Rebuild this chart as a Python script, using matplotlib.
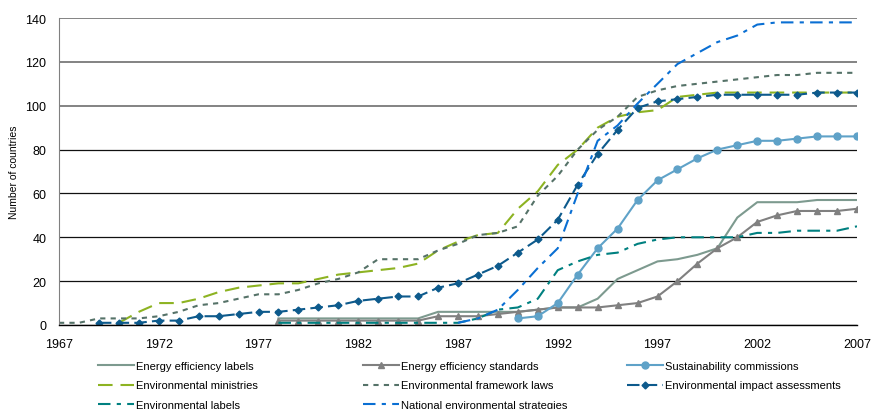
import numpy as np
import matplotlib.pyplot as plt

plt.rcParams['font.family'] = ['Liberation Sans', 'DejaVu Sans']

# data (number of countries per year)
ee_labels_years = list(range(1978, 2008))
ee_labels = [3, 3, 3, 3, 3, 3, 3, 3, 6, 6, 6, 6, 6, 7, 8, 8, 12, 21, 25, 29,
             30, 32, 35, 49, 56, 56, 56, 57, 57, 57]

ee_standards_years = list(range(1978, 2008))
ee_standards = [2, 2, 2, 2, 2, 2, 2, 2, 4, 4, 4, 5, 6, 7, 8, 8, 8, 9, 10, 13,
                20, 28, 35, 40, 47, 50, 52, 52, 52, 53]

sust_years = list(range(1990, 2008))
sust_comm = [3, 4, 10, 23, 35, 44, 57, 66, 71, 76, 80, 82, 84, 84, 85, 86, 86, 86]

min_years = list(range(1970, 2008))
env_ministries = [1, 6, 10, 10, 12, 15, 17, 18, 19, 19, 21, 23, 24, 25, 26, 28,
                  34, 38, 41, 42, 53, 61, 73, 80, 90, 95, 97, 98, 104, 105,
                  106, 106, 106, 106, 106, 106, 106, 106]

laws_years = list(range(1967, 2008))
framework_laws = [1, 1, 3, 3, 3, 4, 6, 9, 10, 12, 14, 14, 16, 19, 21, 24, 30,
                  30, 30, 34, 37, 41, 42, 45, 59, 68, 80, 89, 95, 104, 107,
                  109, 110, 111, 112, 113, 114, 114, 115, 115, 115]

eia_years = list(range(1969, 2008))
eia = [1, 1, 1, 2, 2, 4, 4, 5, 6, 6, 7, 8, 9, 11, 12, 13, 13, 17, 19, 23, 27,
       33, 39, 48, 64, 78, 89, 99, 102, 103, 104, 105, 105, 105, 105, 105,
       106, 106, 106]

env_labels_years = list(range(1978, 2008))
env_labels = [1, 1, 1, 1, 1, 1, 1, 1, 1, 1, 3, 7, 8, 12, 25, 29, 32, 33, 37,
              39, 40, 40, 40, 40, 42, 42, 43, 43, 43, 45]

strat_years = list(range(1987, 2008))
nat_strategies = [1, 3, 7, 16, 26, 35, 60, 84, 91, 101, 110, 119, 124, 129,
                  132, 137, 138, 138, 138, 138, 138]

fig = plt.figure(figsize=(8.71, 4.10), dpi=100)
ax = fig.add_axes([59 / 871, 1 - 326 / 410, (857 - 59) / 871, (326 - 19) / 410])

lw = 1.5
h1, = ax.plot(ee_labels_years, ee_labels, color='#7d9a8f', lw=lw,
              label='Energy efficiency labels')
h2, = ax.plot(ee_standards_years, ee_standards, color='#808080', lw=lw,
              marker='^', ms=5, label='Energy efficiency standards')
h3, = ax.plot(sust_years, sust_comm, color='#5fa2c8', lw=lw, marker='o', ms=5,
              label='Sustainability commissions')
h4, = ax.plot(min_years, env_ministries, color='#8db322', lw=lw,
              dashes=(7, 3.8), label='Environmental ministries')
h5, = ax.plot(laws_years, framework_laws, color='#557268', lw=lw,
              dashes=(2.5, 2.5), label='Environmental framework laws')
h6, = ax.plot(eia_years, eia, color='#0d5a8c', lw=lw, marker='D', ms=3.5,
              dashes=(6, 2.5), label='Environmental impact assessments')
h7, = ax.plot(env_labels_years, env_labels, color='#008080', lw=lw,
              dashes=(6, 3, 2, 3), label='Environmental labels')
h8, = ax.plot(strat_years, nat_strategies, color='#0a6fd3', lw=lw,
              dashes=(6, 3, 2, 3), label='National environmental strategies')

ax.set_xlim(1967, 2007)
ax.set_ylim(0, 140)
ax.set_xticks(np.arange(1967, 2008, 5))
ax.set_yticks(np.arange(0, 141, 20))
ax.tick_params(length=0, labelsize=9, pad=9)
ax.set_ylabel('Number of countries', fontsize=7.5)
ax.yaxis.set_label_coords(-0.05, 0.5)

ax.yaxis.grid(True, color='#111111', lw=0.9)
ax.set_axisbelow(True)
for gl, v in zip(ax.get_ygridlines(), ax.get_yticks()):
    if v >= 100:
        gl.set_color('#7a7a7a')
        gl.set_linewidth(1.3)

for s in ['top', 'right']:
    ax.spines[s].set_visible(False)
ax.spines['left'].set_color('#808080')
ax.spines['bottom'].set_color('black')
ax.spines['bottom'].set_linewidth(1.0)

legend_font = {'family': ['Liberation Sans Narrow', 'Liberation Sans'], 'size': 8}
columns = [([h1, h4, h7], 98), ([h2, h5, h8], 363), ([h3, h6], 627)]
for handles, xpx in columns:
    fig.legend(handles=handles, loc='upper left',
               bbox_to_anchor=(xpx / 871, 1 - 362 / 410),
               frameon=False, borderpad=0, borderaxespad=0,
               handlelength=3.2, handletextpad=0.2, labelspacing=0.85,
               prop=legend_font)

fig.savefig('out.png', dpi=100)
